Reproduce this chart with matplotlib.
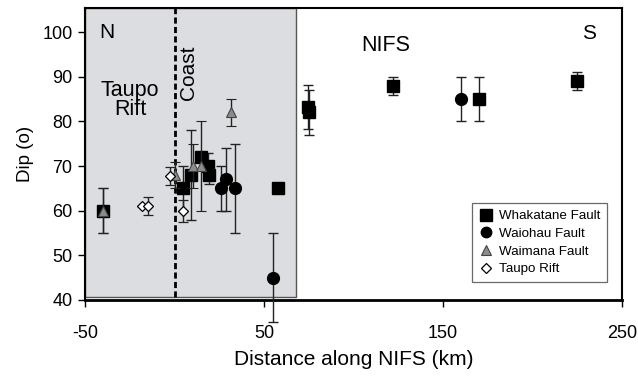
import matplotlib
matplotlib.use("Agg")
import matplotlib.pyplot as plt
from matplotlib.lines import Line2D

plt.rcParams['font.family'] = ['Liberation Sans', 'DejaVu Sans']

# Whakatane Fault
wh_x = [-40, 5, 9, 15, 18.5, 19.5, 58, 74.5, 75, 122, 170, 225]
wh_y = [60, 65, 68, 72, 70, 68, 65, 83.2, 82, 88, 85, 89]
wh_err = [5, 5, 10, 0, 3, 2, 0, 5, 5, 2, 5, 2]

# Waiohau Fault
wa_x = [25.8, 28.8, 33.8, 54.8, 160]
wa_y = [65, 67, 65, 45, 85]
wa_err = [5, 7, 10, 10, 5]

# Waimana Fault
wm_x = [-40, 0.3, 10.5, 14.8, 31.6]
wm_y = [60, 68, 70, 70, 82]
wm_err = [5, 3, 5, 10, 3]

# Taupo Rift
tr_x = [-18.3, -15, -2.5, 4.9]
tr_y = [61, 61, 67.8, 60]
tr_err = [0, 2, 2, 2.5]

fig = plt.figure(figsize=(6.38, 3.82), dpi=100)
ax = fig.add_axes([85/638, 1-300/382, 537/638, 292/382])
ax.set_xlim(-50, 250)
ax.set_ylim(40, 105.4)

# shaded region and coast line
ax.fill_between([-50, 68], [40.7, 40.7], [105.4, 105.4], facecolor='#dcdde0',
                edgecolor='#555555', linewidth=1.0, zorder=0)
ax.plot([0, 0], [40.7, 105.4], color='black', linestyle=(0, (2.2, 1.2)), lw=2.0, zorder=1)

ekw = dict(ecolor='#222222', elinewidth=1.0, capsize=3.5, capthick=1.0, linestyle='none', clip_on=False)
ax.errorbar(wh_x, wh_y, yerr=wh_err, marker='s', ms=9, mfc='black', mec='black', zorder=3, **ekw)
ax.errorbar(wa_x, wa_y, yerr=wa_err, marker='o', ms=8.5, mfc='black', mec='black', zorder=3, **ekw)
ax.errorbar(wm_x, wm_y, yerr=wm_err, marker='^', ms=7.5, mfc='#8c8c8c', mec='#444444', mew=0.8, zorder=4, **ekw)
ax.errorbar(tr_x, tr_y, yerr=tr_err, marker='D', ms=5.5, mfc='white', mec='black', mew=0.9, zorder=4, **ekw)

# annotations
ax.text(-37.9, 100, 'N', fontsize=15, ha='center', va='center')
ax.text(231.6, 99.8, 'S', fontsize=15, ha='center', va='center')
ax.text(118.2, 97.1, 'NIFS', fontsize=15.5, ha='center', va='center')
ax.text(-24.9, 84.8, 'Taupo\nRift', fontsize=15.5, ha='center', va='center', linespacing=0.9)
ax.text(7.7, 90.8, 'Coast', fontsize=15, ha='center', va='center', rotation=90)

ax.set_xticks([-50, 50, 150, 250])
ax.set_xticklabels(['-50', '50', '150', '250'])
ax.set_yticks([40, 50, 60, 70, 80, 90, 100])
ax.tick_params(axis='both', direction='out', length=5, width=1.0, labelsize=13, pad=4)
ax.tick_params(axis='x', pad=13)
for s in ax.spines.values():
    s.set_linewidth(1.5)
ax.spines['bottom'].set_linewidth(2.0)

ax.set_xlabel('Distance along NIFS (km)', fontsize=15, labelpad=6)
ax.set_ylabel('Dip (o)', fontsize=13.5, labelpad=6)

handles = [
    Line2D([], [], marker='s', ms=8, mfc='black', mec='black', ls='none'),
    Line2D([], [], marker='o', ms=7.5, mfc='black', mec='black', ls='none'),
    Line2D([], [], marker='^', ms=6.5, mfc='#8c8c8c', mec='#444444', mew=0.8, ls='none'),
    Line2D([], [], marker='D', ms=5, mfc='white', mec='black', mew=0.9, ls='none'),
]
labels = ['Whakatane Fault', 'Waiohau Fault', 'Waimana Fault', 'Taupo Rift']
leg = ax.legend(handles, labels, loc='lower right', bbox_to_anchor=(0.972, 0.062),
                fontsize=9.6, frameon=True, fancybox=False, edgecolor='#444444',
                borderaxespad=0, handletextpad=0.5, labelspacing=0.4, borderpad=0.5,
                handlelength=1.0)
leg.get_frame().set_linewidth(0.9)

fig.savefig('out.png', dpi=100)
